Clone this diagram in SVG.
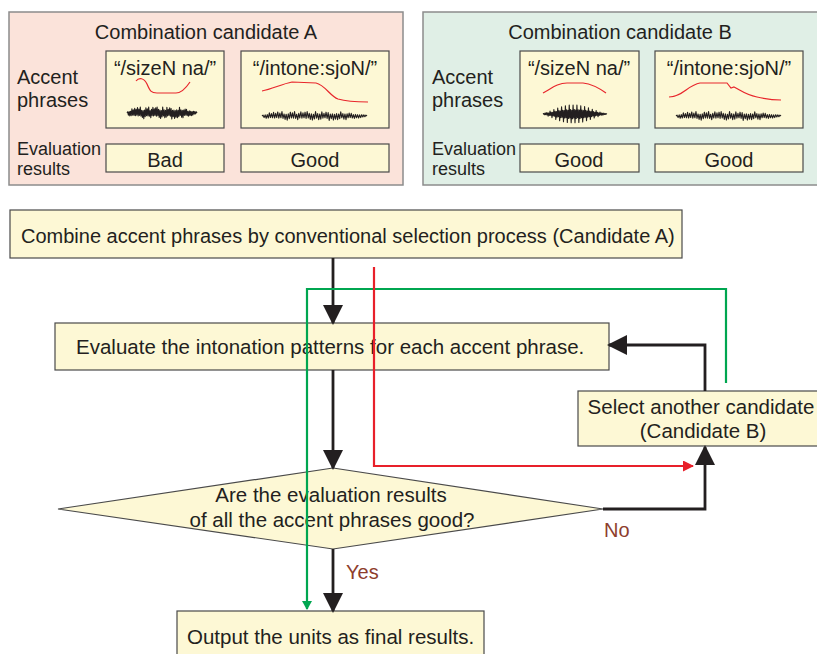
<svg xmlns="http://www.w3.org/2000/svg" xmlns:xlink="http://www.w3.org/1999/xlink" width="817" height="654" viewBox="0 0 817 654">
  <style>
    text { font-family: "Liberation Sans", Arial, Helvetica, sans-serif; fill: #231f20; }
    .f20 { font-size: 20px; }
    .f18 { font-size: 18px; }
    .f205 { font-size: 20.5px; }
    .mid { text-anchor: middle; }
    .lbl { font-size: 20px; fill: #8e3d2c; }
    .panel-a { fill: #fbe3da; stroke: #8c8c8c; stroke-width: 1.5; }
    .panel-b { fill: #e0efe6; stroke: #8c8c8c; stroke-width: 1.5; }
    .box { fill: #fdf8d5; stroke: #4a4a4a; stroke-width: 1.2; }
    .pitch { fill: none; stroke: #e8262c; stroke-width: 1.2; }
    .flow { fill: none; stroke: #231f20; stroke-width: 2.8; }
    .flow-red { fill: none; stroke: #e8202a; stroke-width: 2.2; }
    .flow-green { fill: none; stroke: #00a650; stroke-width: 2.2; }
  </style>
  <defs>
    <marker id="ah-black" viewBox="0 0 20 20" refX="18" refY="10" markerWidth="20" markerHeight="20" markerUnits="userSpaceOnUse" orient="auto">
      <path d="M0,0 L20,10 L0,20 Z" fill="#231f20"/>
    </marker>
    <marker id="ah-red" viewBox="0 0 11 11" refX="10" refY="5.5" markerWidth="11" markerHeight="11" markerUnits="userSpaceOnUse" orient="auto">
      <path d="M0,0 L11,5.5 L0,11 Z" fill="#e8202a"/>
    </marker>
    <marker id="ah-green" viewBox="0 0 9 10" refX="8" refY="5" markerWidth="9" markerHeight="10" markerUnits="userSpaceOnUse" orient="auto">
      <path d="M0,0 L9,5 L0,10 Z" fill="#00a650"/>
    </marker>
    <!-- noise-like waveform, 100 units wide, amplitude +-1 -->
    <path id="wave-noise" fill="none" stroke="#231f20" stroke-width="1.1" stroke-linejoin="round" vector-effect="non-scaling-stroke"
      d="M0,0 L1,-0.2 2,0.35 3,-0.25 4,0.5 5,-0.3 6,0.45 7,-0.7 8,0.35 9,-0.55 10,0.4 11,-0.8 12,0.45 13,-0.6 14,0.35 15,-0.9 16,0.5 17,-0.65 18,0.4 19,-1 20,0.55 21,-0.45 22,0.75 23,-0.4 24,0.95 25,-0.5 26,0.6 27,-0.85 28,0.45 29,-0.7 30,0.5 31,-1 32,0.55 33,-0.4 34,0.8 35,-0.6 36,0.45 37,-0.95 38,0.5 39,-0.7 40,0.4 41,-0.85 42,0.55 43,-1 44,0.45 45,-0.6 46,0.75 47,-0.5 48,0.9 49,-0.4 50,0.65 51,-1 52,0.5 53,-0.55 54,0.8 55,-0.45 56,0.7 57,-0.95 58,0.5 59,-0.6 60,0.4 61,-0.85 62,0.55 63,-0.75 64,1 65,-0.45 66,0.6 67,-0.5 68,0.9 69,-0.4 70,0.7 71,-0.55 72,0.8 73,-0.45 74,0.6 75,-0.95 76,0.4 77,-0.55 78,0.7 79,-0.45 80,0.8 81,-0.5 82,0.4 83,-0.65 84,0.35 85,-0.6 86,0.45 87,-0.3 88,0.55 89,-0.35 90,0.4 91,-0.3 92,0.45 93,-0.25 94,0.35 95,-0.3 96,0.2 97,-0.25 98,0.15 99,-0.2 100,0"/>
    <!-- voiced waveform: tapered envelope with periodic spikes -->
    <path id="wave-voiced" fill="none" stroke="#231f20" stroke-width="1.1" stroke-linejoin="round" vector-effect="non-scaling-stroke"
      d="M0,0 L1,-0.05 2,0.08 3,-0.1 4,0.07 5,-0.16 6,0.1 7,-0.12 8,0.25 9,-0.12 10,0.15 11,-0.33 12,0.15 13,-0.2 14,0.42 15,-0.18 16,0.22 17,-0.5 18,0.25 19,-0.3 20,0.6 21,-0.28 22,0.35 23,-0.66 24,0.3 25,-0.38 26,0.75 27,-0.32 28,0.4 29,-0.8 30,0.35 31,-0.42 32,0.86 33,-0.38 34,0.45 35,-0.9 36,0.4 37,-0.48 38,0.95 39,-0.42 40,0.5 41,-1 42,0.45 43,-0.5 44,0.98 45,-0.42 46,0.52 47,-1 48,0.45 49,-0.5 50,0.97 51,-0.44 52,0.5 53,-1 54,0.42 55,-0.48 56,0.95 57,-0.45 58,0.5 59,-0.92 60,0.4 61,-0.45 62,0.88 63,-0.38 64,0.42 65,-0.82 66,0.35 67,-0.4 68,0.75 69,-0.32 70,0.36 71,-0.68 72,0.3 73,-0.32 74,0.6 75,-0.26 76,0.3 77,-0.52 78,0.22 79,-0.26 80,0.45 81,-0.2 82,0.22 83,-0.38 84,0.16 85,-0.18 86,0.3 87,-0.13 88,0.15 89,-0.22 90,0.1 91,-0.12 92,0.16 93,-0.08 94,0.1 95,-0.1 96,0.06 97,-0.06 98,0.05 99,-0.03 100,0"/>
  </defs>

  <!-- Combination candidate A -->
  <g id="candidate-a">
    <rect class="panel-a" x="9" y="12" width="394" height="173"/>
    <text class="f20 mid" x="206" y="39">Combination candidate A</text>
    <text class="f20" x="17" y="84">Accent</text>
    <text class="f20" x="17" y="107">phrases</text>
    <text class="f18" x="17" y="155">Evaluation</text>
    <text class="f18" x="17" y="175">results</text>
    <rect class="box" x="106" y="51" width="118" height="77"/>
    <text class="f20 mid" x="165" y="75">“/sizeN na/”</text>
    <path class="pitch" d="M136,81 C139,77 144,78 147,84 C150,91 151,93 157,93 L176,93 C182,93 186,88 190,82"/>
    <use xlink:href="#wave-noise" transform="translate(127,113) scale(0.7,6)"/>
    <rect class="box" x="241" y="51" width="148" height="77"/>
    <text class="f20 mid" x="315" y="75">“/intone:sjoN/”</text>
    <path class="pitch" d="M262,91 C272,89 282,84 292,82 L316,83 C325,85 330,96 338,99 C348,102 358,102 368,102"/>
    <use xlink:href="#wave-noise" transform="translate(262,116) scale(1.05,4.5)"/>
    <rect class="box" x="106" y="144" width="118" height="28"/>
    <text class="f20 mid" x="165" y="167">Bad</text>
    <rect class="box" x="241" y="144" width="148" height="28"/>
    <text class="f20 mid" x="315" y="167">Good</text>
  </g>

  <!-- Combination candidate B -->
  <g id="candidate-b">
    <rect class="panel-b" x="423" y="12" width="400" height="173"/>
    <text class="f20 mid" x="620" y="39">Combination candidate B</text>
    <text class="f20" x="432" y="84">Accent</text>
    <text class="f20" x="432" y="107">phrases</text>
    <text class="f18" x="432" y="155">Evaluation</text>
    <text class="f18" x="432" y="175">results</text>
    <rect class="box" x="520" y="51" width="119" height="77"/>
    <text class="f20 mid" x="579" y="75">“/sizeN na/”</text>
    <path class="pitch" d="M543,93 C552,88 558,83 567,83 L583,83 C592,84 599,88 606,93"/>
    <use xlink:href="#wave-voiced" transform="translate(543,114) scale(0.64,9)"/>
    <rect class="box" x="655" y="51" width="148" height="77"/>
    <text class="f20 mid" x="729" y="75">“/intone:sjoN/”</text>
    <path class="pitch" d="M669,97 C682,97 688,85 700,83 L727,83 L731,88 L734,87 C740,90 746,95 757,97 C766,99 774,100 781,100"/>
    <use xlink:href="#wave-noise" transform="translate(676,116) scale(1.05,4.5)"/>
    <rect class="box" x="520" y="144" width="119" height="28"/>
    <text class="f20 mid" x="579" y="167">Good</text>
    <rect class="box" x="655" y="144" width="148" height="28"/>
    <text class="f20 mid" x="729" y="167">Good</text>
  </g>

  <!-- Flowchart nodes -->
  <g id="combine">
    <rect class="box" x="10" y="210" width="672" height="48"/>
    <text class="f20" x="21" y="243">Combine accent phrases by conventional selection process (Candidate A)</text>
  </g>
  <g id="evaluate">
    <rect class="box" x="55" y="323" width="554" height="47"/>
    <text class="f205" x="76" y="354">Evaluate the intonation patterns for each accent phrase.</text>
  </g>
  <g id="decision">
    <polygon class="box" points="333,468 603,509 333,549 58,509"/>
    <text class="f205 mid" x="331" y="502">Are the evaluation results</text>
    <text class="f205 mid" x="332" y="527">of all the accent phrases good?</text>
  </g>
  <g id="select-another">
    <rect class="box" x="578" y="391" width="250" height="55"/>
    <text class="f205 mid" x="701" y="414">Select another candidate</text>
    <text class="f205 mid" x="703" y="438">(Candidate B)</text>
  </g>
  <g id="output">
    <rect class="box" x="177" y="611" width="307" height="60"/>
    <text class="f205" x="187" y="644">Output the units as final results.</text>
  </g>

  <!-- Connectors -->
  <g id="connectors">
    <path class="flow" d="M333,258 V323" marker-end="url(#ah-black)"/>
    <path class="flow" d="M333,370 V468" marker-end="url(#ah-black)"/>
    <path class="flow" d="M333,549 V611" marker-end="url(#ah-black)"/>
    <path class="flow" d="M603,509 H705 V447" marker-end="url(#ah-black)"/>
    <path class="flow" d="M705,391 V345 H609" marker-end="url(#ah-black)"/>
    <path class="flow-green" d="M726,383 V289 H307 V609" marker-end="url(#ah-green)"/>
    <path class="flow-red" d="M374,267 V466 H693" marker-end="url(#ah-red)"/>
    <text class="lbl" x="346" y="579">Yes</text>
    <text class="lbl" x="604" y="537">No</text>
  </g>
</svg>
